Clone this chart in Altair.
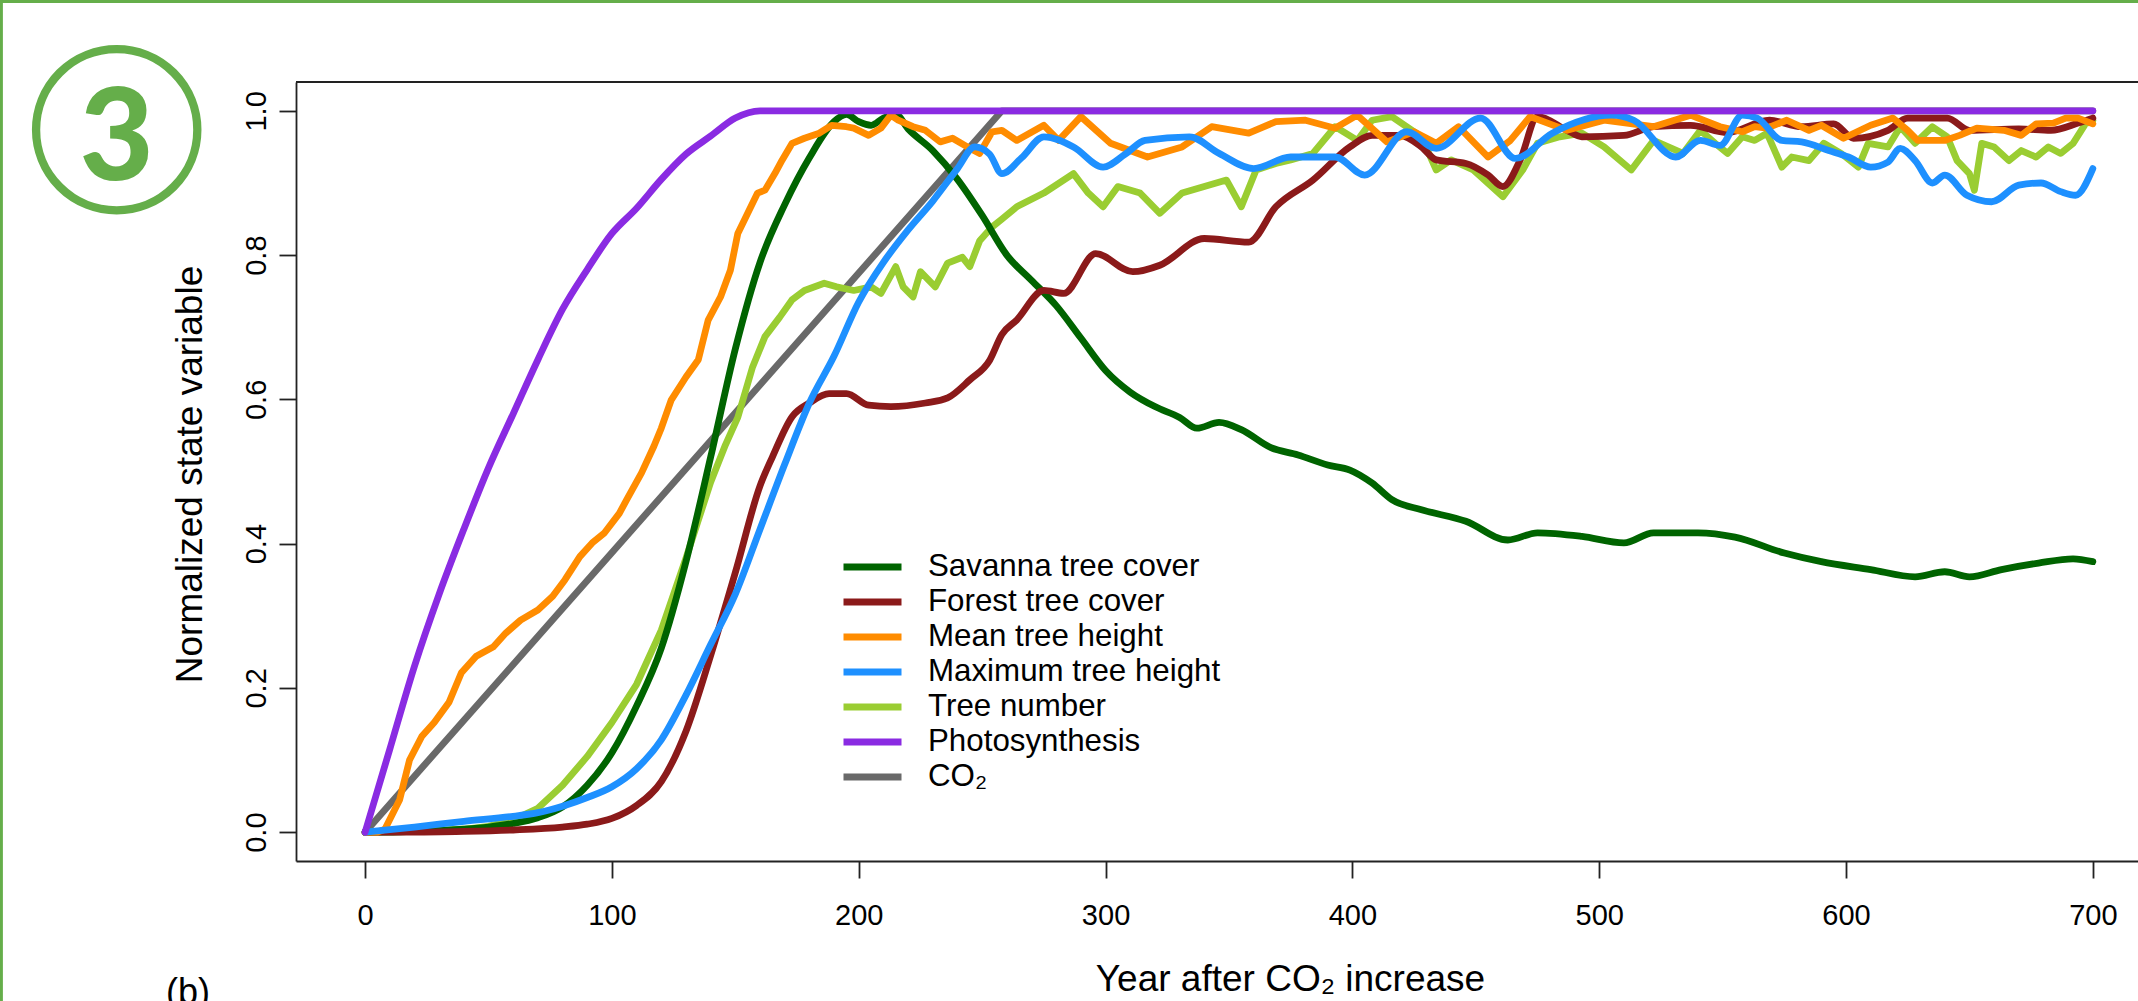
import altair as alt
import pandas as pd

LEGEND_ORDER = ["Savanna tree cover", "Forest tree cover", "Mean tree height",
                "Maximum tree height", "Tree number", "Photosynthesis", "CO₂"]
COLORS = ["#006400", "#8B1A1A", "#FF8C00", "#1E90FF", "#9ACD32", "#8A2BE2", "#696969"]
DRAW_ORDER = ["CO₂", "Tree number", "Savanna tree cover", "Forest tree cover",
              "Mean tree height", "Maximum tree height", "Photosynthesis"]

X_TICKS = [0, 100, 200, 300, 400, 500, 600, 700]
Y_TICKS = [0.0, 0.2, 0.4, 0.6, 0.8, 1.0]

co2_year = [0, 258, 700]
co2_value = [0.0, 1.0, 1.0]

photo_year = [0, 10, 20, 30, 40, 50, 60, 70, 80, 90, 100, 110, 120, 130, 140, 150, 160, 700]
photo_value = [0.0, 0.115, 0.23, 0.33, 0.42, 0.505, 0.58, 0.655, 0.725, 0.78, 0.83, 0.865,
               0.905, 0.94, 0.965, 0.99, 1.0, 1.0]

savanna_year = [0, 10, 20, 30, 40, 50, 60, 70, 80, 90, 100, 110, 120, 130, 140, 150, 160, 170,
                180, 190, 195, 200, 205, 210, 215, 220, 230, 240, 250, 260, 270, 280, 290, 300,
                310, 320, 330, 337, 346, 355, 367, 378, 390, 399, 408, 416, 428, 446, 463, 475,
                493, 510, 522, 540, 555, 575, 590, 610, 628, 640, 650, 663, 678, 692, 700]
savanna_value = [0.0, 0.0, 0.001, 0.002, 0.004, 0.007, 0.012, 0.02, 0.035, 0.065, 0.11, 0.175,
                 0.255, 0.375, 0.52, 0.67, 0.79, 0.87, 0.935, 0.985, 0.995, 0.985, 0.98, 0.99,
                 0.995, 0.975, 0.945, 0.905, 0.855, 0.8, 0.765, 0.73, 0.685, 0.64, 0.61, 0.59,
                 0.575, 0.56, 0.568, 0.558, 0.533, 0.523, 0.509, 0.502, 0.484, 0.461, 0.447,
                 0.431, 0.405, 0.415, 0.41, 0.401, 0.415, 0.415, 0.409, 0.387, 0.375, 0.364,
                 0.354, 0.361, 0.354, 0.364, 0.373, 0.379, 0.375]

forest_year = [0, 20, 40, 60, 80, 90, 100, 110, 120, 130, 140, 150, 160, 165, 173, 180, 188, 195,
               204, 213, 227, 236, 245, 253, 258, 264, 275, 283, 296, 311, 322, 340, 358, 369,
               384, 399, 408, 419, 428, 434, 446, 455, 461, 468, 475, 487, 493, 510, 522, 537,
               552, 569, 582, 595, 603, 617, 625, 641, 650, 670, 683, 694, 700]
forest_value = [0.0, 0.0, 0.001, 0.003, 0.007, 0.011, 0.019, 0.037, 0.07, 0.14, 0.245, 0.36,
                0.48, 0.52, 0.576, 0.595, 0.608, 0.608, 0.592, 0.59, 0.595, 0.602, 0.627, 0.654,
                0.69, 0.71, 0.751, 0.747, 0.802, 0.777, 0.786, 0.823, 0.818, 0.867, 0.904, 0.95,
                0.966, 0.966, 0.95, 0.932, 0.927, 0.911, 0.895, 0.932, 0.992, 0.973, 0.964,
                0.966, 0.978, 0.98, 0.97, 0.987, 0.978, 0.982, 0.962, 0.973, 0.99, 0.99, 0.973,
                0.975, 0.973, 0.983, 0.99]

mean_h_year = [0, 5, 8, 14, 18, 23, 28, 34, 39, 45, 52, 57, 63, 70, 76, 81, 87, 92, 97, 103,
               106, 112, 117, 120, 124, 130, 135, 139, 144, 148, 151, 155, 159, 162, 166, 169,
               173, 178, 184, 189, 195, 198, 204, 209, 213, 216, 222, 227, 233, 238, 244, 249,
               254, 258, 264, 275, 281, 290, 302, 317, 331, 343, 358, 369, 381, 393, 402, 414,
               425, 434, 443, 455, 464, 472, 487, 502, 522, 537, 549, 558, 563, 568, 576, 585,
               590, 599, 610, 619, 625, 629, 640, 646, 653, 664, 671, 677, 684, 689, 694, 700]
mean_h_value = [0.0, 0.0, 0.004, 0.045, 0.1, 0.133, 0.152, 0.18, 0.221, 0.244, 0.257, 0.276,
                0.294, 0.308, 0.327, 0.35, 0.382, 0.401, 0.415, 0.442, 0.461, 0.498, 0.535,
                0.56, 0.599, 0.631, 0.655, 0.71, 0.742, 0.779, 0.83, 0.858, 0.886, 0.89, 0.913,
                0.932, 0.955, 0.962, 0.969, 0.98, 0.978, 0.976, 0.966, 0.976, 0.994, 0.987,
                0.978, 0.973, 0.957, 0.962, 0.95, 0.941, 0.971, 0.973, 0.959, 0.98, 0.959,
                0.992, 0.955, 0.936, 0.95, 0.978, 0.969, 0.985, 0.987, 0.976, 0.994, 0.957,
                0.971, 0.955, 0.978, 0.936, 0.959, 0.992, 0.973, 0.987, 0.978, 0.994, 0.978,
                0.971, 0.978, 0.976, 0.987, 0.973, 0.98, 0.962, 0.98, 0.99, 0.973, 0.959, 0.959,
                0.966, 0.976, 0.973, 0.966, 0.982, 0.983, 0.99, 0.99, 0.982]

max_h_year = [0, 20, 40, 60, 70, 80, 90, 100, 110, 120, 130, 140, 150, 160, 170, 180, 190, 200,
              210, 220, 230, 240, 247, 253, 258, 266, 275, 287, 299, 308, 316, 334, 346, 360,
              375, 393, 405, 422, 434, 452, 466, 481, 505, 514, 531, 541, 549, 558, 564, 574,
              582, 593, 601, 610, 617, 622, 628, 635, 640, 649, 659, 670, 679, 687, 693, 700]
max_h_value = [0.0, 0.007, 0.015, 0.022, 0.027, 0.036, 0.048, 0.063, 0.088, 0.128, 0.19, 0.26,
               0.33, 0.42, 0.51, 0.595, 0.66, 0.735, 0.79, 0.835, 0.875, 0.92, 0.95, 0.94,
               0.913, 0.935, 0.964, 0.95, 0.922, 0.94, 0.959, 0.964, 0.941, 0.92, 0.936, 0.936,
               0.911, 0.971, 0.948, 0.99, 0.934, 0.969, 0.994, 0.987, 0.936, 0.959, 0.952,
               0.994, 0.99, 0.959, 0.957, 0.945, 0.936, 0.922, 0.929, 0.948, 0.931, 0.9, 0.911,
               0.883, 0.874, 0.897, 0.9, 0.888, 0.883, 0.92]

tree_n_year = [0, 20, 40, 50, 60, 70, 80, 90, 100, 110, 120, 130, 140, 146, 151, 157, 162, 168,
               173, 178, 186, 191, 198, 205, 209, 215, 218, 222, 225, 231, 236, 242, 245, 249,
               254, 258, 264, 275, 287, 293, 299, 305, 314, 322, 331, 340, 349, 355, 361, 369,
               375, 384, 393, 402, 408, 416, 428, 434, 440, 449, 461, 469, 475, 484, 493, 502,
               513, 522, 534, 541, 547, 552, 558, 563, 568, 574, 578, 585, 591, 598, 605, 609,
               617, 622, 628, 635, 641, 645, 650, 652, 655, 660, 666, 671, 677, 682, 687, 692,
               697, 700]
tree_n_value = [0.0, 0.001, 0.004, 0.008, 0.017, 0.033, 0.065, 0.105, 0.152, 0.205, 0.28, 0.38,
                0.485, 0.537, 0.575, 0.645, 0.687, 0.714, 0.738, 0.751, 0.761, 0.756, 0.751,
                0.756, 0.747, 0.784, 0.756, 0.742, 0.777, 0.756, 0.789, 0.797, 0.784, 0.82,
                0.839, 0.85, 0.867, 0.886, 0.913, 0.886, 0.867, 0.895, 0.886, 0.858, 0.886,
                0.895, 0.904, 0.867, 0.918, 0.927, 0.932, 0.941, 0.978, 0.959, 0.987, 0.992,
                0.964, 0.918, 0.932, 0.918, 0.881, 0.918, 0.955, 0.964, 0.969, 0.95, 0.918,
                0.959, 0.941, 0.973, 0.955, 0.941, 0.964, 0.959, 0.969, 0.922, 0.936, 0.931,
                0.955, 0.941, 0.922, 0.955, 0.95, 0.978, 0.955, 0.978, 0.964, 0.931, 0.913,
                0.89, 0.955, 0.95, 0.931, 0.945, 0.936, 0.95, 0.941, 0.955, 0.982, 0.987]

SERIES = {
    "CO₂": (co2_year, co2_value),
    "Photosynthesis": (photo_year, photo_value),
    "Savanna tree cover": (savanna_year, savanna_value),
    "Forest tree cover": (forest_year, forest_value),
    "Mean tree height": (mean_h_year, mean_h_value),
    "Maximum tree height": (max_h_year, max_h_value),
    "Tree number": (tree_n_year, tree_n_value),
}
SMOOTH = {"Photosynthesis", "Savanna tree cover", "Forest tree cover", "Maximum tree height"}

rows = []
for name, (ys, vs) in SERIES.items():
    for i, (yr, v) in enumerate(zip(ys, vs)):
        rows.append({"series": name, "year": yr, "value": v, "i": i})
df = pd.DataFrame(rows)

FONT = "Liberation Sans"
GREEN = "#65AE4A"
AXIS_COLOR = "#222222"
W, H = 1842, 779

xscale = alt.Scale(domain=[-28, 718.3], nice=False, zero=False)
yscale = alt.Scale(domain=[-0.04, 1.04], nice=False, zero=False)

x_axis = alt.Axis(values=X_TICKS, format="d", title="Year after CO₂ increase",
                  labelFont=FONT, titleFont=FONT, labelFontSize=29, titleFontSize=37,
                  titleFontWeight="normal", labelColor="black", titleColor="black",
                  tickSize=17, tickWidth=1.8, tickColor=AXIS_COLOR, domainWidth=1.8,
                  domainColor=AXIS_COLOR, labelPadding=23, grid=False, labelFlush=False,
                  titleX=994, titleY=129, titleBaseline="alphabetic", titleAlign="center")
y_axis = alt.Axis(values=Y_TICKS, format=".1f", title="Normalized state variable",
                  labelFont=FONT, titleFont=FONT, labelFontSize=29, titleFontSize=37,
                  titleFontWeight="normal", labelColor="black", titleColor="black",
                  tickSize=17, tickWidth=1.8, tickColor=AXIS_COLOR, domainWidth=1.8,
                  domainColor=AXIS_COLOR, labelPadding=14, grid=False, labelFlush=False,
                  labelAngle=270, labelAlign="center", labelBaseline="alphabetic",
                  titleAngle=270, titleX=-95, titleY=392, titleBaseline="alphabetic",
                  titleAlign="center")

legend = alt.Legend(orient="none", legendX=544, legendY=465.5, title=None,
                    symbolType="M-1,0H2.625", symbolSize=1024, symbolStrokeWidth=7,
                    symbolOffset=0, labelFont=FONT, labelFontSize=31.3, labelColor="black",
                    labelOffset=49, rowPadding=0, padding=0, labelLimit=700)

color = alt.Color("series:N", scale=alt.Scale(domain=LEGEND_ORDER, range=COLORS),
                  legend=legend)

layers = []
for name in DRAW_ORDER:
    interp = "monotone" if name in SMOOTH else "linear"
    layers.append(
        alt.Chart(df).transform_filter(alt.datum.series == name)
        .mark_line(strokeWidth=6.8, strokeCap="round", strokeJoin="round", interpolate=interp)
        .encode(x=alt.X("year:Q", scale=xscale, axis=x_axis),
                y=alt.Y("value:Q", scale=yscale, axis=y_axis),
                color=color, order="i:Q")
    )

one = pd.DataFrame({"k": [0]})
top_line = alt.Chart(one).mark_rule(color=AXIS_COLOR, strokeWidth=1.8).encode(
    x=alt.value(0), x2=alt.value(W), y=alt.value(0))
frame_top = alt.Chart(one).mark_rule(color=GREEN, strokeWidth=3).encode(
    x=alt.value(-296), x2=alt.value(W), y=alt.value(-80.6))
frame_left = alt.Chart(one).mark_rule(color=GREEN, strokeWidth=3).encode(
    x=alt.value(-294.6), y=alt.value(-82), y2=alt.value(H + 140))
circle = alt.Chart(one).mark_point(shape="circle", filled=False, size=26000, stroke=GREEN,
                                   strokeWidth=8.3, opacity=1).encode(
    x=alt.value(-179.3), y=alt.value(47.7))
three = alt.Chart(one).mark_text(text="3", font="Lato", fontWeight=900, fontSize=128,
                                 color=GREEN, align="center", baseline="alphabetic").encode(
    x=alt.value(-179.3), y=alt.value(98))
label_b = alt.Chart(one).mark_text(text="(b)", font=FONT, fontSize=36, color="black",
                                   align="left", baseline="alphabetic").encode(
    x=alt.value(-130), y=alt.value(922))

chart = alt.layer(*layers, top_line, frame_top, frame_left, circle, three, label_b).properties(
    width=W, height=H, padding={"left": 296, "top": 82, "right": 0, "bottom": 140},
    autosize="none", background="white"
).configure_view(stroke=None)

chart.save("out.html", embed_options={"renderer": "svg", "actions": False})
